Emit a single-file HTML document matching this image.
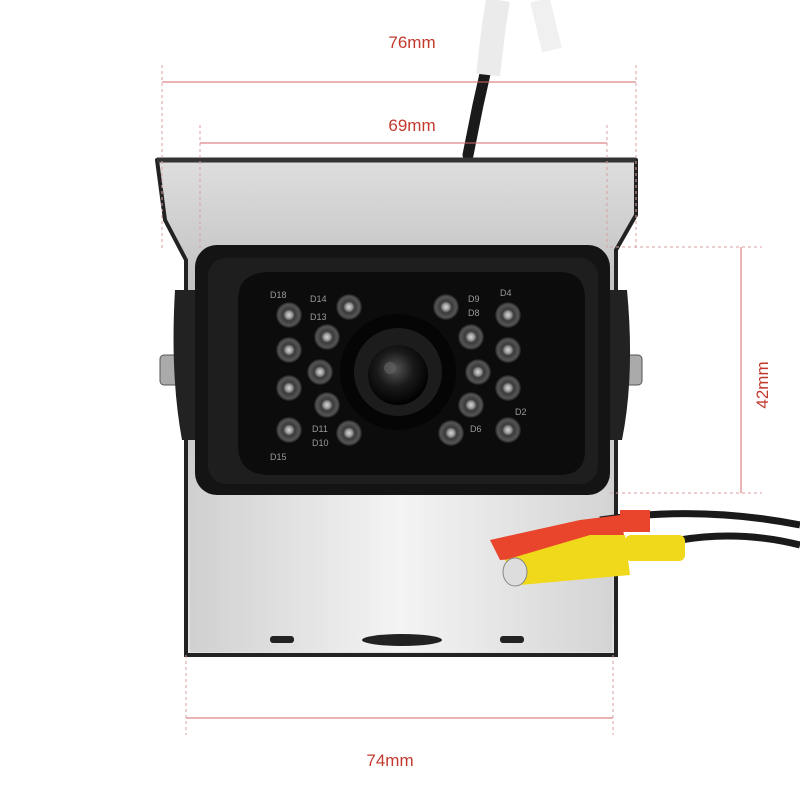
<!DOCTYPE html>
<html><head><meta charset="utf-8"><style>html,body{margin:0;padding:0;background:#fff}svg{display:block}</style></head>
<body>
<svg width="800" height="800" viewBox="0 0 800 800" xmlns="http://www.w3.org/2000/svg">
<defs>
<linearGradient id="silver" x1="0" y1="0" x2="0" y2="1"><stop offset="0" stop-color="#dedede"/><stop offset="0.3" stop-color="#bdbdbd"/><stop offset="1" stop-color="#e2e2e2"/></linearGradient>
<linearGradient id="plate" x1="0" y1="0" x2="1" y2="0"><stop offset="0" stop-color="#d0d0d0"/><stop offset="0.5" stop-color="#f4f4f4"/><stop offset="1" stop-color="#d4d4d4"/></linearGradient>
<radialGradient id="lens" cx="0.45" cy="0.4" r="0.6"><stop offset="0" stop-color="#555"/><stop offset="0.5" stop-color="#1a1a1a"/><stop offset="1" stop-color="#000"/></radialGradient>
<radialGradient id="led" cx="0.5" cy="0.5" r="0.5"><stop offset="0" stop-color="#d8d8d8"/><stop offset="0.25" stop-color="#999"/><stop offset="0.45" stop-color="#3a3a3a"/><stop offset="0.8" stop-color="#555"/><stop offset="1" stop-color="#1a1a1a"/></radialGradient>
</defs>
<rect width="800" height="800" fill="#fff"/>
<path d="M468 155 L478 105 L487 65" stroke="#1a1a1a" stroke-width="11" fill="none" stroke-linecap="round"/>
<path d="M488 75 L494 25 L498 0" stroke="#ebebeb" stroke-width="24" fill="none"/>
<path d="M540 0 L552 50" stroke="#f0f0f0" stroke-width="20" fill="none"/>
<path d="M157 160 L636 160 L636 215 L616 250 L616 655 L186 655 L186 260 L165 220 Z" fill="url(#silver)" stroke="#222" stroke-width="4" stroke-linejoin="round"/>
<path d="M157 160 L636 160" stroke="#333" stroke-width="5"/>
<rect x="190" y="490" width="422" height="162" fill="url(#plate)"/>
<path d="M186 490 L186 655 L616 655 L616 490" fill="none" stroke="#222" stroke-width="4"/>
<ellipse cx="402" cy="640" rx="40" ry="6" fill="#222"/>
<rect x="270" y="636" width="24" height="7" rx="3" fill="#222"/>
<rect x="500" y="636" width="24" height="7" rx="3" fill="#222"/>
<rect x="160" y="355" width="22" height="30" rx="4" fill="#aaa" stroke="#555"/>
<rect x="620" y="355" width="22" height="30" rx="4" fill="#aaa" stroke="#555"/>
<path d="M175 290 Q170 375 182 440 L200 440 L200 290 Z" fill="#222"/>
<path d="M627 290 Q635 375 622 440 L605 440 L605 290 Z" fill="#222"/>
<rect x="195" y="245" width="415" height="250" rx="22" fill="#141414"/>
<rect x="208" y="258" width="390" height="226" rx="18" fill="#1e1e1e"/>
<path d="M270 272 L560 272 Q585 272 585 300 L585 450 Q585 475 560 475 L270 475 Q238 475 238 445 L238 300 Q238 272 270 272 Z" fill="#0c0c0c"/>
<circle cx="398" cy="372" r="58" fill="#050505"/>
<circle cx="398" cy="372" r="44" fill="#1c1c1c"/>
<circle cx="398" cy="375" r="30" fill="url(#lens)"/>
<circle cx="390" cy="368" r="6" fill="#666" opacity="0.6"/>
<g fill="url(#led)">
<circle cx="289" cy="315" r="13"/><circle cx="349" cy="307" r="13"/><circle cx="327" cy="337" r="13"/>
<circle cx="289" cy="350" r="13"/><circle cx="320" cy="372" r="13"/><circle cx="289" cy="388" r="13"/>
<circle cx="327" cy="405" r="13"/><circle cx="289" cy="430" r="13"/><circle cx="349" cy="433" r="13"/>
<circle cx="446" cy="307" r="13"/><circle cx="471" cy="337" r="13"/><circle cx="508" cy="315" r="13"/>
<circle cx="508" cy="350" r="13"/><circle cx="478" cy="372" r="13"/><circle cx="508" cy="388" r="13"/>
<circle cx="471" cy="405" r="13"/><circle cx="508" cy="430" r="13"/><circle cx="451" cy="433" r="13"/>
</g>
<g font-family="Liberation Sans, sans-serif" font-size="9" fill="#999">
<text x="270" y="298">D18</text><text x="310" y="302">D14</text><text x="310" y="320">D13</text>
<text x="468" y="302">D9</text><text x="468" y="316">D8</text><text x="500" y="296">D4</text>
<text x="270" y="460">D15</text><text x="312" y="432">D11</text><text x="312" y="446">D10</text>
<text x="470" y="432">D6</text><text x="515" y="415">D2</text>
</g>
<path d="M600 520 Q700 505 800 525" stroke="#1a1a1a" stroke-width="7" fill="none"/>
<path d="M680 540 Q740 530 800 545" stroke="#1a1a1a" stroke-width="7" fill="none"/>
<path d="M490 540 L580 520 L620 515 L625 540 L590 555 L500 560 Z" fill="#e8452c"/>
<rect x="620" y="510" width="30" height="22" fill="#e8452c"/>
<path d="M505 560 L590 535 L625 535 L630 575 L520 585 Z" fill="#f0d81a"/>
<rect x="625" y="535" width="60" height="26" rx="6" fill="#f0d81a"/>
<ellipse cx="515" cy="572" rx="12" ry="14" fill="#ddd" stroke="#888"/>
<g stroke="#d46a6a" stroke-width="1" fill="none">
<line x1="162" y1="82" x2="636" y2="82"/>
<line x1="200" y1="143" x2="607" y2="143"/>
<line x1="186" y1="718" x2="613" y2="718"/>
<line x1="741" y1="247" x2="741" y2="493"/>
</g>
<g stroke="#d9a0a0" stroke-width="1" stroke-dasharray="3,3" fill="none">
<line x1="162" y1="65" x2="162" y2="250"/><line x1="636" y1="65" x2="636" y2="250"/>
<line x1="200" y1="125" x2="200" y2="250"/><line x1="607" y1="125" x2="607" y2="250"/>
<line x1="186" y1="655" x2="186" y2="735"/><line x1="613" y1="655" x2="613" y2="735"/>
<line x1="610" y1="247" x2="762" y2="247"/><line x1="610" y1="493" x2="762" y2="493"/>
</g>
<g font-family="Liberation Sans, sans-serif" font-size="17" fill="#c23a2e" text-anchor="middle">
<text x="412" y="48">76mm</text>
<text x="412" y="131">69mm</text>
<text x="390" y="766">74mm</text>
<text x="0" y="0" transform="translate(768 385) rotate(-90)">42mm</text>
</g>
</svg>
</body></html>
